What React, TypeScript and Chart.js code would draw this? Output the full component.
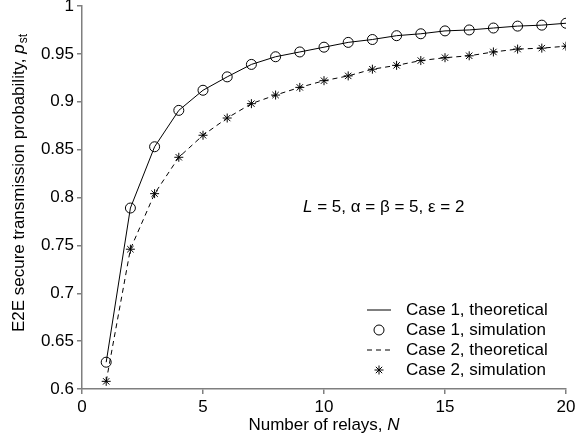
import React, { useEffect, useRef } from "react";
import { Chart, registerables } from "chart.js";

Chart.register(...registerables);

const relays = [1, 2, 3, 4, 5, 6, 7, 8, 9, 10, 11, 12, 13, 14, 15, 16, 17, 18, 19, 20];
const case1Theory = [0.628, 0.789, 0.853, 0.891, 0.912, 0.926, 0.939, 0.947, 0.952, 0.957, 0.962, 0.965, 0.969, 0.971, 0.974, 0.975, 0.977, 0.979, 0.98, 0.982];
const case1Sim = [0.628, 0.789, 0.853, 0.891, 0.912, 0.926, 0.939, 0.947, 0.952, 0.957, 0.962, 0.965, 0.969, 0.971, 0.974, 0.975, 0.977, 0.979, 0.98, 0.982];
const case2Theory = [0.608, 0.746, 0.804, 0.842, 0.865, 0.883, 0.898, 0.907, 0.915, 0.922, 0.927, 0.934, 0.938, 0.943, 0.946, 0.948, 0.952, 0.955, 0.956, 0.958];
const case2Sim = [0.608, 0.746, 0.804, 0.842, 0.865, 0.883, 0.898, 0.907, 0.915, 0.922, 0.927, 0.934, 0.938, 0.943, 0.946, 0.948, 0.952, 0.955, 0.956, 0.958];
const legendLabels = ["Case 1, theoretical", "Case 1, simulation", "Case 2, theoretical", "Case 2, simulation"];
const xTitle = "Number of relays, ";
const xTitleVar = "N";
const yTitle = "E2E secure transmission probability, ";
const yTitleVar = "p";
const yTitleSub = "st";

const FONT = "'Liberation Sans', Arial, sans-serif";
const AXIS_GRAY = "#7f7f7f";
const TEXT = "#000000";

const toPts = (ys: number[]) => relays.map((x, i) => ({ x, y: ys[i] }));

const textPlugin = {
  id: "customText",
  afterDraw(chart: any) {
    const ctx: CanvasRenderingContext2D = chart.ctx;
    const area = chart.chartArea;
    ctx.save();
    ctx.fillStyle = TEXT;
    ctx.textBaseline = "alphabetic";

    // x title
    ctx.font = `17px ${FONT}`;
    const w1 = ctx.measureText(xTitle).width;
    ctx.font = `italic 17px ${FONT}`;
    const w2 = ctx.measureText(xTitleVar).width;
    const cx = (area.left + area.right) / 2;
    const sx = cx - (w1 + w2) / 2;
    const by = 430;
    ctx.font = `17px ${FONT}`;
    ctx.textAlign = "left";
    ctx.fillText(xTitle, sx, by);
    ctx.font = `italic 17px ${FONT}`;
    ctx.fillText(xTitleVar, sx + w1, by);

    // y title (rotated)
    ctx.save();
    ctx.translate(24, 183.5);
    ctx.rotate(-Math.PI / 2);
    ctx.font = `17px ${FONT}`;
    const t1 = ctx.measureText(yTitle).width;
    ctx.font = `italic 17px ${FONT}`;
    const t2 = ctx.measureText(yTitleVar).width;
    ctx.font = `12px ${FONT}`;
    const t3 = ctx.measureText(yTitleSub).width;
    const total = t1 + t2 + t3;
    let px = -total / 2;
    ctx.font = `17px ${FONT}`;
    ctx.fillText(yTitle, px, 0);
    px += t1;
    ctx.font = `italic 17px ${FONT}`;
    ctx.fillText(yTitleVar, px, 0);
    px += t2;
    ctx.font = `12px ${FONT}`;
    ctx.fillText(yTitleSub, px + 1, 3);
    ctx.restore();

    // annotation
    const parts: [string, boolean][] = [["L", true], [" = 5, \u03b1 = \u03b2 = 5, \u03b5 = 2", false]];
    let ax = 303;
    const ay = 212;
    for (const [s, it] of parts) {
      ctx.font = `${it ? "italic " : ""}17px ${FONT}`;
      ctx.fillText(s, ax, ay);
      ax += ctx.measureText(s).width;
    }

    // legend
    const rowY = [310, 330, 350, 370];
    const sampleL = 367;
    const sampleR = 391;
    const mx = (sampleL + sampleR) / 2;
    const textX = 406;
    ctx.strokeStyle = "#000";
    ctx.lineWidth = 1;
    legendLabels.forEach((lab, i) => {
      const y = rowY[i];
      ctx.beginPath();
      if (i === 0 || i === 2) {
        ctx.setLineDash(i === 2 ? [5, 4] : []);
        ctx.moveTo(sampleL, y);
        ctx.lineTo(sampleR, y);
        ctx.stroke();
        ctx.setLineDash([]);
      } else if (i === 1) {
        ctx.arc(mx, y, 5, 0, Math.PI * 2);
        ctx.stroke();
      } else {
        const r = 4.5;
        for (let k = 0; k < 4; k++) {
          const a = (k * Math.PI) / 4;
          ctx.moveTo(mx - r * Math.cos(a), y - r * Math.sin(a));
          ctx.lineTo(mx + r * Math.cos(a), y + r * Math.sin(a));
        }
        ctx.stroke();
      }
      ctx.font = `17px ${FONT}`;
      ctx.textBaseline = "middle";
      ctx.fillText(lab, textX, y);
      ctx.textBaseline = "alphabetic";
    });
    ctx.restore();
  },
};

const fmt = (v: any) => String(Number(Number(v).toFixed(2)));

export default function App() {
  const ref = useRef<HTMLCanvasElement>(null);
  useEffect(() => {
    document.body.style.margin = "0";
    const chart = new Chart(ref.current as HTMLCanvasElement, {
      type: "line",
      data: {
        datasets: [
          {
            label: legendLabels[0],
            data: toPts(case1Theory),
            borderColor: "#000",
            borderWidth: 1,
            pointRadius: 0,
            fill: false,
            tension: 0,
          },
          {
            label: legendLabels[1],
            data: toPts(case1Sim),
            showLine: false,
            borderColor: "#000",
            backgroundColor: "rgba(0,0,0,0)",
            pointStyle: "circle",
            pointRadius: 5,
            pointBorderWidth: 1,
          },
          {
            label: legendLabels[2],
            data: toPts(case2Theory),
            borderColor: "#000",
            borderWidth: 1,
            borderDash: [5, 4],
            pointRadius: 0,
            fill: false,
            tension: 0,
          },
          {
            label: legendLabels[3],
            data: toPts(case2Sim),
            showLine: false,
            borderColor: "#000",
            backgroundColor: "#000",
            pointStyle: "star",
            pointRadius: 4.5,
            pointBorderWidth: 1,
          },
        ],
      },
      options: {
        responsive: false,
        animation: false,
        layout: { padding: { top: 6, right: 12, left: 0, bottom: 0 } },
        plugins: { legend: { display: false }, tooltip: { enabled: false } },
        scales: {
          x: {
            type: "linear",
            min: 0,
            max: 20,
            ticks: { stepSize: 5, color: TEXT, font: { family: FONT, size: 17 }, padding: 3, maxRotation: 0, callback: fmt },
            grid: { display: true, drawOnChartArea: false, drawTicks: true, tickLength: 5, color: AXIS_GRAY, lineWidth: 1.5 },
            border: { display: true, color: AXIS_GRAY, width: 1.5 },
            afterFit(scale: any) {
              scale.height = 52;
              scale.paddingLeft = 0;
              scale.paddingRight = 0;
            },
          },
          y: {
            type: "linear",
            min: 0.6,
            max: 1,
            ticks: { stepSize: 0.05, color: TEXT, font: { family: FONT, size: 17 }, padding: 3, callback: fmt },
            grid: { display: true, drawOnChartArea: false, drawTicks: true, tickLength: 5, color: AXIS_GRAY, lineWidth: 1.5 },
            border: { display: true, color: AXIS_GRAY, width: 1.5 },
            afterFit(scale: any) {
              scale.width = 82;
              scale.paddingTop = 0;
              scale.paddingBottom = 0;
            },
          },
        },
      },
      plugins: [textPlugin],
    } as any);
    return () => chart.destroy();
  }, []);
  return (
    <div style={{ width: 578, height: 441 }}>
      <canvas ref={ref} width={578} height={441} style={{ display: "block" }} />
    </div>
  );
}
